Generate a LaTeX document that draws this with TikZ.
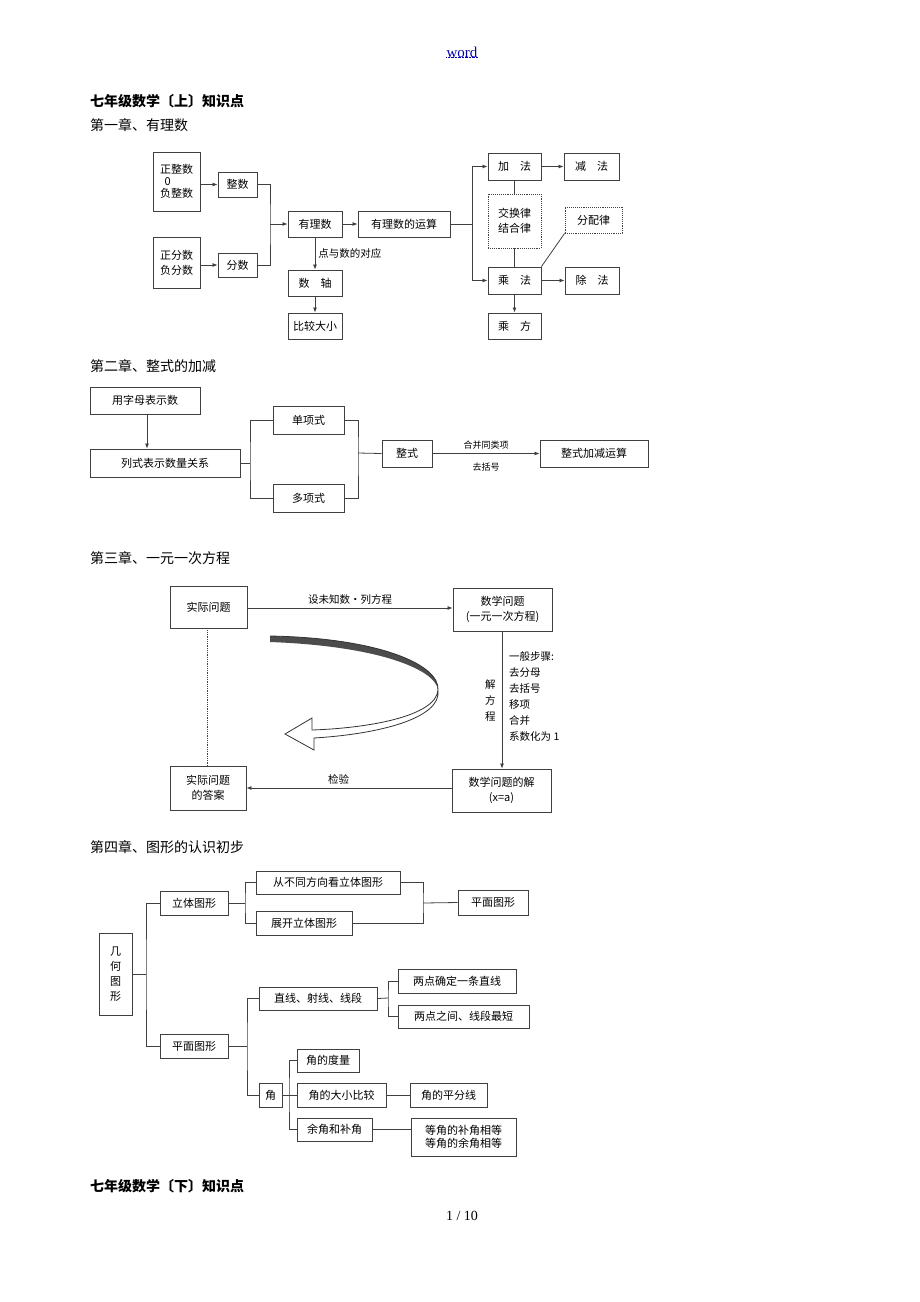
\documentclass[tikz,border=0pt]{standalone}
\usepackage{fontspec}
\setmainfont{Liberation Serif}
\newfontfamily\cjk{Noto Sans CJK SC}
\usetikzlibrary{arrows.meta}
\tikzset{box/.style={draw=black!75,line width=0.9pt,inner sep=0pt,align=center,font=\cjk\fontsize{11}{15}\selectfont},
dbox/.style={box,densely dotted},
ln/.style={draw=black!75,line width=0.8pt},
ar/.style={ln,-{Latex[length=5pt,width=4pt]}},
lab/.style={font=\cjk\fontsize{10.5}{14}\selectfont,inner sep=1pt},
hd/.style={anchor=west,inner sep=0pt,font=\cjk\fontsize{14}{16}\selectfont}}
\newcommand\bx[7][box]{\node[#1,minimum width={(#5)-(#3)},minimum height={(#6)-(#4)}] (#2) at ({((#3)+(#5))/2},{((#4)+(#6))/2}) {#7};}
\begin{document}
\begin{tikzpicture}[x=1pt,y=-1pt]
\useasboundingbox[fill=white] (0,0) rectangle (920,1302);
% headers
\node[inner sep=0pt,text=blue!70!black,font=\fontsize{15}{16}\selectfont] (w) at (462,52) {word};
\draw[blue!70!black,densely dotted] (w.south west) -- (w.south east);
\node[hd,font=\cjk\bfseries\fontsize{14}{16}\selectfont] (h0) at (90,101) {七年级数学〔上〕知识点};
\node[hd] (h1) at (90,125) {第一章、有理数};
\node[hd] (h2) at (90,366) {第二章、整式的加减};
\node[hd] (h3) at (90,558) {第三章、一元一次方程};
\node[hd] (h4) at (90,847) {第四章、图形的认识初步};
\node[hd,font=\cjk\bfseries\fontsize{14}{16}\selectfont] (h5) at (90,1186) {七年级数学〔下〕知识点};
\node[inner sep=0pt,font=\fontsize{14}{16}\selectfont] (pg) at (462,1216) {1 / 10};
% chapter 1
\bx{zz}{153}{152}{200}{211}{正整数\\[-3pt]\hspace*{-1.6em}0\\[-3pt]负整数}
\bx{zs}{218}{172}{257}{197}{整数}
\bx{fz}{153}{237}{200}{288}{正分数\\负分数}
\bx{fs}{218}{253}{257}{277}{分数}
\bx{yl}{288}{211}{342}{237}{有理数}
\bx{ys}{358}{211}{450}{237}{有理数的运算}
\bx{sz}{288}{270}{342}{296}{数\quad 轴}
\bx{bj}{288}{313}{342}{339}{比较大小}
\bx{jia}{488}{153}{541}{180}{加\quad 法}
\bx{jian}{564}{153}{619}{180}{减\quad 法}
\bx[dbox]{jh}{488}{194}{541}{248}{交换律\\结合律}
\bx[dbox]{fp}{565}{207}{622}{233}{分配律}
\bx{cf}{488}{267}{541}{294}{乘\quad 法}
\bx{cu}{565}{267}{619}{294}{除\quad 法}
\bx{cfang}{488}{313}{541}{339}{乘\quad 方}
\draw[ar] (zz.east|-zs) -- (zs.west);
\draw[ar] (fz.east|-fs) -- (fs.west);
\coordinate (j1) at (270,224);
\draw[ln] (zs.east) -| (j1) |- (fs.east);
\draw[ar] (j1) -- (yl.west);
\draw[ar] (yl.east) -- (ys.west);
\coordinate (j2) at (472,224);
\draw[ln] (ys.east) -- (j2);
\draw[ar] (j2) |- (jia.west);
\draw[ar] (j2) |- (cf.west);
\draw[ar] (jia.east) -- (jian.west);
\draw[ar] (cf.east) -- (cu.west);
\draw[ln] (jia.south) -- (jh.north);
\draw[ln] (jh.south) -- (cf.north);
\draw[ln] (fp.south west) -- (cf.north east);
\draw[ar] (cf.south) -- (cfang.north);
\draw[ar] (yl.south) -- node[lab,right,xshift=2pt] {点与数的对应} (sz.north);
\draw[ar] (sz.south) -- (bj.north);
% chapter 2
\bx{zm}{90}{387}{200}{414}{用字母表示数}
\bx{lsh}{90}{449}{240}{477}{列式表示数量关系}
\bx{dan}{273}{406}{344}{434}{单项式}
\bx{duo}{273}{484}{344}{512}{多项式}
\bx{zsh}{382}{440}{432}{467}{整式}
\bx{jj}{540}{440}{648}{467}{整式加减运算}
\draw[ar] (zm.south-|147,0) -- (lsh.north-|147,0);
\coordinate (k1) at (250,463);
\draw[ln] (lsh.east) -- (k1);
\draw[ln] (dan.west) -| (k1) |- (duo.west);
\coordinate (k2) at (358,453);
\draw[ln] (dan.east) -| (k2) |- (duo.east);
\draw[ln] (k2) -- (zsh.west);
\draw[ar] (zsh.east) -- node[lab,above=3pt,font=\cjk\fontsize{9}{11}\selectfont] {合并同类项} node[lab,below=8pt,font=\cjk\fontsize{9}{11}\selectfont] {去括号} (jj.west);
% chapter 3
\bx{sj}{170}{586}{247}{628}{实际问题}
\bx{sx}{453}{588}{552}{631}{数学问题\\(一元一次方程)}
\bx{da}{170}{766}{246}{810}{实际问题\\的答案}
\bx{jie}{452}{769}{551}{812}{数学问题的解\\\textit{(x=a)}}
\draw[ar] (sj.east|-0,608) -- node[lab,above=2pt] {设未知数·列方程} (sx.west|-0,608);
\draw[ar] (sx.south-|502,0) -- node[lab,left=5pt,align=center,font=\cjk\fontsize{10.5}{16}\selectfont] {解\\方\\程} (jie.north-|502,0);
\node[lab,anchor=north west,align=left,font=\cjk\fontsize{10.5}{16}\selectfont] (steps) at (508,650) {一般步骤:\\去分母\\去括号\\移项\\合并\\系数化为 1};
\draw[ar] (jie.west|-0,788) -- node[lab,above=2pt,pos=0.55] {检验} (da.east|-0,788);
\draw[ln,densely dotted] (sj.south-|207,0) -- (da.north-|207,0);
% curved arrow
\fill[black!70] (270,636) .. controls (380,638) and (440,665) .. (438,690) .. controls (436,670) and (380,646) .. (270,642) -- cycle;
\draw[black!80,line width=0.8pt,fill=white] (438,690) .. controls (436,716) and (370,728) .. (312,730)
 -- (312,718) -- (285,734) -- (314,750) -- (314,738) .. controls (380,734) and (442,718) .. (438,690);
\draw[black!80,line width=0.8pt] (270,636) .. controls (380,638) and (440,665) .. (438,690);
% chapter 4
\bx{jh4}{99}{933}{132}{1015}{几\\何\\图\\形}
\bx{lt}{160}{891}{228}{915}{立体图形}
\bx{pm}{160}{1034}{228}{1058}{平面图形}
\bx{cbt}{256}{871}{400}{894}{从不同方向看立体图形}
\bx{zk}{256}{911}{352}{935}{展开立体图形}
\bx{pm2}{458}{890}{528}{915}{平面图形}
\bx{zx}{259}{987}{377}{1010}{直线、射线、线段}
\bx{ld1}{398}{969}{516}{993}{两点确定一条直线}
\bx{ld2}{398}{1005}{529}{1028}{两点之间、线段最短}
\bx{jiao}{259}{1083}{282}{1107}{角}
\bx{dl}{297}{1049}{359}{1072}{角的度量}
\bx{dx}{297}{1083}{386}{1107}{角的大小比较}
\bx{pf}{410}{1083}{487}{1107}{角的平分线}
\bx{yj}{297}{1118}{372}{1141}{余角和补角}
\bx{dj}{411}{1118}{516}{1156}{等角的补角相等\\[-2pt]等角的余角相等}
\coordinate (m1) at (146,974);
\draw[ln] (jh4.east) -- (m1);
\draw[ln] (lt.west) -| (m1) |- (pm.west);
\coordinate (m2) at (245,903);
\draw[ln] (lt.east) -- (m2);
\draw[ln] (cbt.west) -| (m2) |- (zk.west);
\coordinate (m3) at (423,903);
\draw[ln] (cbt.east) -| (m3) |- (zk.east);
\draw[ln] (m3) -- (pm2.west);
\coordinate (m4) at (247,1046);
\draw[ln] (pm.east) -- (m4);
\draw[ln] (zx.west) -| (m4) |- (jiao.west);
\coordinate (m5) at (388,998);
\draw[ln] (zx.east) -- (m5);
\draw[ln] (ld1.west) -| (m5) |- (ld2.west);
\coordinate (m6) at (289,1095);
\draw[ln] (jiao.east) -- (m6);
\draw[ln] (dl.west) -| (m6) |- (yj.west);
\draw[ln] (m6) -- (dx.west);
\draw[ln] (dx.east) -- (pf.west);
\draw[ln] (yj.east) -- (dj.west|-yj.east);
\end{tikzpicture}
\end{document}
